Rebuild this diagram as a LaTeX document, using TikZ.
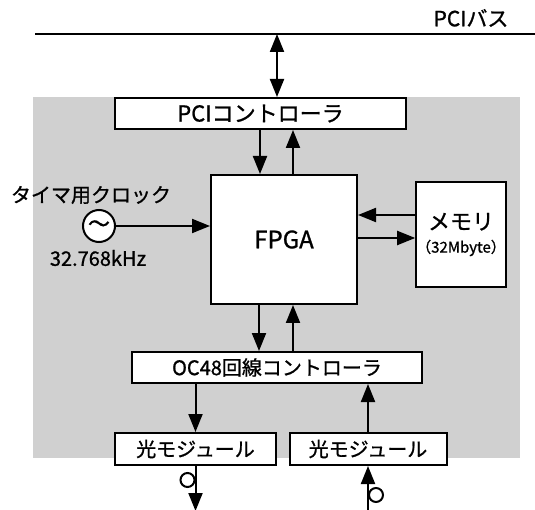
\documentclass[tikz,border=0pt]{standalone}
\usepackage{fontspec}
\setmainfont[FakeBold=1,AutoFakeBold=1]{Noto Sans CJK JP}
\usetikzlibrary{arrows.meta,positioning,calc}
\definecolor{BoardGray}{RGB}{208,208,208}

\begin{document}
\begin{tikzpicture}[x=1pt,y=-1pt,
  blk/.style={rectangle,draw,line width=2pt,fill=white,inner sep=0pt,align=center,font=\fontsize{20}{22}\selectfont\bfseries},
  lbl/.style={inner sep=0pt,font=\fontsize{20}{22}\selectfont\bfseries}
]
  \useasboundingbox (0,0) rectangle (535,510);
  % board area
  \fill[BoardGray] (33,97) rectangle (520,458);
  % bus
  \draw[line width=2pt] (35,34) -- (535,34);
  \node[lbl,font=\fontsize{21}{22}\selectfont\bfseries] (buslbl) at (471,18) {PCIバス};
  \coordinate (bus) at (277,34);
  % blocks
  \node[blk,minimum width=291,minimum height=31,font=\fontsize{22}{22}\selectfont\bfseries] (pci) at (260.5,113.5) {PCIコントローラ};
  \node[blk,minimum width=146,minimum height=129,font=\fontsize{24}{24}\selectfont\bfseries] (fpga) at (284,239.5) {FPGA};
  \node[blk,minimum width=84,minimum height=105] (mem) at (461,234.5) {{\fontsize{22}{24}\selectfont メモリ}\\[1pt]{\fontsize{15}{17}\selectfont （32Mbyte）}};
  \node[blk,minimum width=290,minimum height=31] (oc) at (277,367.5) {OC48回線コントローラ};
  \node[blk,minimum width=161,minimum height=32] (mod1) at (195.5,449) {光モジュール};
  \node[blk,minimum width=157,minimum height=32] (mod2) at (368,449) {光モジュール};
  % clock
  \node[circle,draw,line width=2pt,fill=white,minimum size=32,inner sep=0pt,font=\fontsize{22}{22}\selectfont\bfseries] (clk) at (99,226) {～};
  \node[lbl] (clklbl) at (91,195) {タイマ用クロック};
  \node[lbl] (freq) at (98,258) {32.768kHz};
  % connectors
  \draw[{Triangle[length=18pt,width=14pt]}-{Triangle[length=18pt,width=14pt]},line width=2pt] (bus) -- (bus |- pci.north);
  \draw[-{Triangle[length=18pt,width=14pt]},line width=2pt] ([xshift=-24pt]fpga.north |- pci.south) -- ([xshift=-24pt]fpga.north);
  \draw[-{Triangle[length=18pt,width=14pt]},line width=2pt] ([xshift=9pt]fpga.north) -- ([xshift=9pt]fpga.north |- pci.south);
  \draw[-{Triangle[length=18pt,width=14pt]},line width=2pt] (clk) -- (clk -| fpga.west);
  \draw[-{Triangle[length=18pt,width=14pt]},line width=2pt] ([yshift=19.5pt]mem.west) -- ([yshift=19.5pt]mem.west -| fpga.east);
  \draw[-{Triangle[length=18pt,width=14pt]},line width=2pt] ([yshift=-3.5pt]mem.west -| fpga.east) -- ([yshift=-3.5pt]mem.west);
  \draw[-{Triangle[length=18pt,width=14pt]},line width=2pt] ([xshift=-25pt]fpga.south) -- ([xshift=-25pt]fpga.south |- oc.north);
  \draw[-{Triangle[length=18pt,width=14pt]},line width=2pt] ([xshift=9pt]fpga.south |- oc.north) -- ([xshift=9pt]fpga.south);
  \draw[-{Triangle[length=18pt,width=14pt]},line width=2pt] (mod1.north |- oc.south) -- (mod1.north);
  \draw[-{Triangle[length=18pt,width=14pt]},line width=2pt] (mod2.north) -- (mod2.north |- oc.south);
  % fibres
  \coordinate (fout) at ($(mod1.south)+(0,45)$);
  \coordinate (fin) at ($(mod2.south)+(0,45)$);
  \draw[-{Triangle[length=18pt,width=14pt]},line width=2pt] (mod1.south) -- (fout);
  \draw[-{Triangle[length=18pt,width=14pt]},line width=2pt] (fin) -- (mod2.south);
  \draw[line width=2pt] ($(mod1.south)+(-8,14)$) circle[radius=7];
  \draw[line width=2pt] ($(mod2.south)+(8,29)$) circle[radius=7];
\end{tikzpicture}
\end{document}
